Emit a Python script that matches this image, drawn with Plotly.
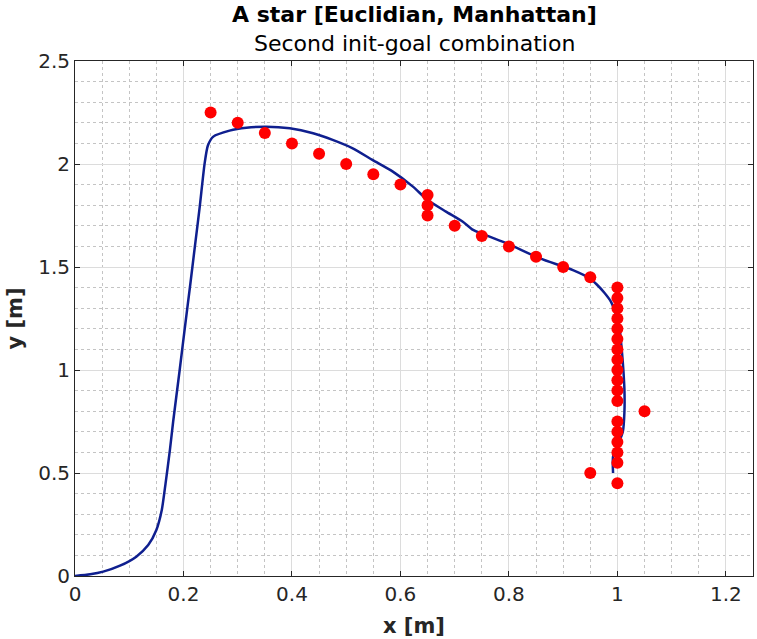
import plotly.graph_objects as go

# A* trajectory (blue line)
path_x = [0.0, 0.028, 0.052, 0.083, 0.113, 0.135, 0.150, 0.160, 0.167, 0.175,
          0.181, 0.193, 0.202, 0.212, 0.221, 0.230, 0.239, 0.245, 0.255, 0.285,
          0.316, 0.353, 0.396, 0.439, 0.475, 0.512, 0.549, 0.586, 0.623, 0.650,
          0.684, 0.715, 0.734, 0.796, 0.857, 0.918, 0.949, 0.962, 0.976, 0.988,
          0.996, 1.004, 1.008, 1.011, 1.013, 1.013, 1.010, 1.000, 0.992, 0.992]
path_y = [0.0, 0.008, 0.021, 0.050, 0.094, 0.150, 0.223, 0.320, 0.450, 0.612,
          0.750, 1.000, 1.194, 1.404, 1.599, 1.793, 2.003, 2.090, 2.133, 2.162,
          2.176, 2.181, 2.173, 2.149, 2.117, 2.076, 2.019, 1.963, 1.890, 1.825,
          1.769, 1.720, 1.680, 1.615, 1.542, 1.485, 1.445, 1.415, 1.375, 1.332,
          1.280, 1.200, 1.100, 1.000, 0.900, 0.800, 0.700, 0.630, 0.580, 0.500]

# waypoints (red dots)
pts_x = [0.25, 0.30, 0.35, 0.40, 0.45, 0.50, 0.55, 0.60, 0.65, 0.65, 0.65,
         0.70, 0.75, 0.80, 0.85, 0.90, 0.95,
         1.0, 1.0, 1.0, 1.0, 1.0, 1.0, 1.0, 1.0, 1.0, 1.0, 1.0, 1.0,
         1.05,
         1.0, 1.0, 1.0, 1.0, 1.0, 0.95, 1.0]
pts_y = [2.25, 2.20, 2.15, 2.10, 2.05, 2.00, 1.95, 1.90, 1.85, 1.80, 1.75,
         1.70, 1.65, 1.60, 1.55, 1.50, 1.45,
         1.40, 1.35, 1.30, 1.25, 1.20, 1.15, 1.10, 1.05, 1.00, 0.95, 0.90, 0.85,
         0.80,
         0.75, 0.70, 0.65, 0.60, 0.55, 0.50, 0.45]

x_ticks = [0, 0.2, 0.4, 0.6, 0.8, 1, 1.2]
x_labels = ["0", "0.2", "0.4", "0.6", "0.8", "1", "1.2"]
y_ticks = [0, 0.5, 1, 1.5, 2, 2.5]
y_labels = ["0", "0.5", "1", "1.5", "2", "2.5"]

FONT = "DejaVu Sans"
DARK = "#262626"

fig = go.Figure()
fig.add_trace(go.Scatter(x=path_x, y=path_y, mode="lines",
                         line=dict(color="#0f1f8f", width=2.5, shape="spline", smoothing=0.6),
                         showlegend=False))
fig.add_trace(go.Scatter(x=pts_x, y=pts_y, mode="markers",
                         marker=dict(color="#ff0000", size=12, line=dict(width=0)),
                         showlegend=False))

axis_common = dict(
    showline=True, linecolor=DARK, linewidth=1, mirror="ticks",
    ticks="inside", ticklen=5, tickcolor=DARK, tickwidth=1,
    showgrid=True, gridcolor="#dcdcdc", gridwidth=1,
    zeroline=False, automargin=False,
    tickfont=dict(family=FONT, size=20, color=DARK),
)

fig.update_xaxes(range=[0, 1.25], tickvals=x_ticks, ticktext=x_labels,
                 minor=dict(dtick=0.05, tick0=0, showgrid=True, griddash="dot",
                            gridcolor="#c4c4c4", gridwidth=1, ticks=""),
                 **axis_common)
fig.update_yaxes(range=[0, 2.5], tickvals=y_ticks, ticktext=y_labels,
                 minor=dict(dtick=0.1, tick0=0, showgrid=True, griddash="dot",
                            gridcolor="#c4c4c4", gridwidth=1, ticks=""),
                 **axis_common)

# titles and axis labels placed as annotations (pixel offsets from the plot box)
fig.add_annotation(text="<b>A star [Euclidian, Manhattan]</b>", xref="paper", yref="paper",
                   x=0.5, y=1.0, yanchor="middle", yshift=47, showarrow=False,
                   font=dict(family=FONT, size=22, color="#000000"))
fig.add_annotation(text="Second init-goal combination", xref="paper", yref="paper",
                   x=0.5, y=1.0, yanchor="middle", yshift=18, showarrow=False,
                   font=dict(family=FONT, size=22, color="#000000"))
fig.add_annotation(text="<b>x [m]</b>", xref="paper", yref="paper",
                   x=0.5, y=0.0, yanchor="middle", yshift=-50, showarrow=False,
                   font=dict(family=FONT, size=21, color=DARK))
fig.add_annotation(text="<b>y [m]</b>", xref="paper", yref="paper",
                   x=0.0, y=0.5, xanchor="center", xshift=-61, textangle=-90,
                   showarrow=False, font=dict(family=FONT, size=21, color=DARK))

fig.update_layout(
    width=757, height=639,
    margin=dict(l=75, r=4, t=61, b=63),
    paper_bgcolor="white", plot_bgcolor="white",
    font=dict(family=FONT, color=DARK),
)

fig.write_html("out.html", config={"responsive": False, "displayModeBar": False},
               post_script="document.body.style.margin='0';document.body.style.overflow='hidden';")
